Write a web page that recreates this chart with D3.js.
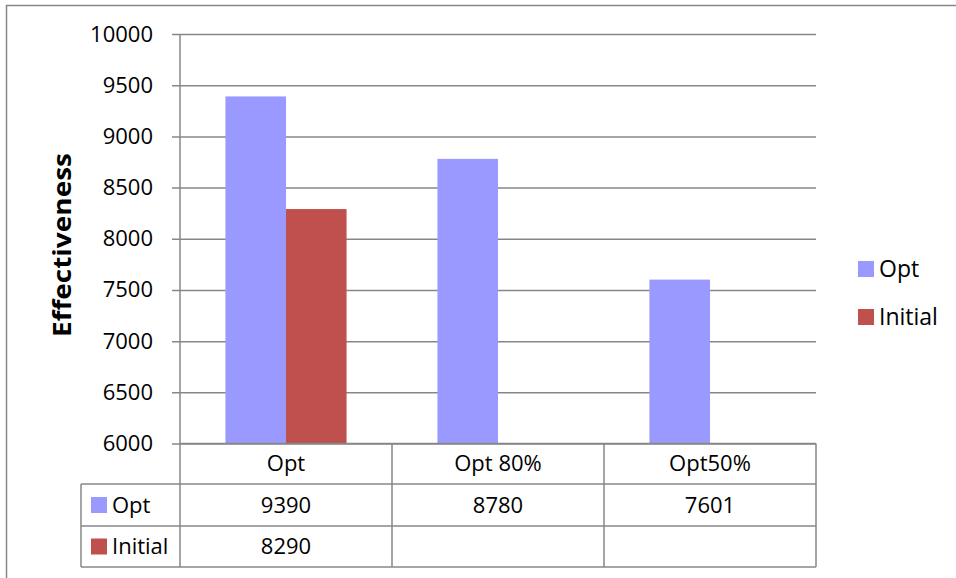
<!DOCTYPE html>
<html>
<head>
<meta charset="utf-8">
<script src="https://cdn.jsdelivr.net/npm/d3@7"></script>
<style>
  html, body { margin: 0; padding: 0; background: #fff; }
  svg { display: block; }
  text { font-family: "Open Sans", "Noto Sans", sans-serif; fill: #000; }
</style>
</head>
<body>
<svg id="chart" width="956" height="578"></svg>
<script>
// Categories and series
const categories = ["Opt", "Opt 80%", "Opt50%"];
const seriesNames = ["Opt", "Initial"];
const optValues = [9390, 8780, 7601];
const initialValues = [8290, null, null];
const yTicks = [6000, 6500, 7000, 7500, 8000, 8500, 9000, 9500, 10000];
const yTitle = "Effectiveness";

const colors = { "Opt": "#9999FF", "Initial": "#C0504D" };
const seriesValues = { "Opt": optValues, "Initial": initialValues };

const svg = d3.select("#chart");
const gridColor = "#878787";

// Outer chart frame
svg.append("rect")
  .attr("x", 6.5).attr("y", 5.5)
  .attr("width", 1000).attr("height", 1000)
  .attr("fill", "none").attr("stroke", gridColor).attr("stroke-width", 1.5);

const plot = { left: 180, right: 816, top: 34, bottom: 443.5 };

const x = d3.scaleBand()
  .domain(categories)
  .range([plot.left, plot.right]);

const xInner = d3.scaleBand()
  .domain(seriesNames)
  .range([0, x.bandwidth()])
  .paddingOuter(0.75)
  .paddingInner(0);

const y = d3.scaleLinear()
  .domain([6000, 10000])
  .range([plot.bottom, plot.top]);

// Horizontal gridlines with tick marks
const yAxis = d3.axisLeft(y)
  .tickValues(yTicks)
  .tickSize(-(plot.right - plot.left))
  .tickPadding(27)
  .tickFormat(d3.format("d"));

const gy = svg.append("g")
  .attr("transform", `translate(${plot.left},0)`)
  .call(yAxis);
gy.select(".domain").remove();
gy.selectAll(".tick line")
  .attr("x1", -8)
  .attr("stroke", gridColor).attr("stroke-width", 1.5);
gy.selectAll(".tick text")
  .attr("font-size", 22)
  .style("font-family", "'Open Sans', sans-serif")
  .attr("fill", "#000");

// Vertical axis line
svg.append("line")
  .attr("x1", plot.left).attr("x2", plot.left)
  .attr("y1", plot.top).attr("y2", plot.bottom)
  .attr("stroke", gridColor).attr("stroke-width", 1.5);

// Bars
const groups = svg.append("g").selectAll("g")
  .data(categories)
  .join("g")
  .attr("transform", d => `translate(${x(d)},0)`);

groups.selectAll("rect")
  .data((c, i) => seriesNames
    .map(s => ({ s, v: seriesValues[s][i] }))
    .filter(d => d.v != null))
  .join("rect")
  .attr("x", d => xInner(d.s))
  .attr("width", xInner.bandwidth())
  .attr("y", d => y(d.v))
  .attr("height", d => y(6000) - y(d.v))
  .attr("fill", d => colors[d.s]);

// Data table below the plot
const rowH = [plot.bottom, 484, 526, 567];
const tableLeft = 81;
const tg = svg.append("g");

// Horizontal table lines
tg.append("line")
  .attr("x1", plot.left).attr("x2", plot.right)
  .attr("y1", plot.bottom).attr("y2", plot.bottom)
  .attr("stroke", gridColor).attr("stroke-width", 1.5);
[rowH[1], rowH[2], rowH[3]].forEach(yy => {
  tg.append("line")
    .attr("x1", tableLeft).attr("x2", plot.right)
    .attr("y1", yy).attr("y2", yy)
    .attr("stroke", gridColor).attr("stroke-width", 1.5);
});
// Vertical table lines
tg.append("line")
  .attr("x1", tableLeft).attr("x2", tableLeft)
  .attr("y1", rowH[1]).attr("y2", rowH[3])
  .attr("stroke", gridColor).attr("stroke-width", 1.5);
categories.forEach(c => {
  tg.append("line")
    .attr("x1", x(c)).attr("x2", x(c))
    .attr("y1", plot.bottom).attr("y2", rowH[3])
    .attr("stroke", gridColor).attr("stroke-width", 1.5);
});
tg.append("line")
  .attr("x1", plot.right).attr("x2", plot.right)
  .attr("y1", plot.bottom).attr("y2", rowH[3])
  .attr("stroke", gridColor).attr("stroke-width", 1.5);

// Category header row
tg.selectAll("text.cat")
  .data(categories)
  .join("text")
  .attr("class", "cat")
  .attr("x", d => x(d) + x.bandwidth() / 2)
  .attr("y", (rowH[0] + rowH[1]) / 2)
  .attr("dy", "0.35em")
  .attr("text-anchor", "middle")
  .attr("font-size", 22)
  .text(d => d);

// Series rows with legend keys and values
seriesNames.forEach((s, r) => {
  const cy = (rowH[r + 1] + rowH[r + 2]) / 2;
  tg.append("rect")
    .attr("x", 91).attr("y", cy - 8)
    .attr("width", 16).attr("height", 16)
    .attr("fill", colors[s]);
  tg.append("text")
    .attr("x", 112).attr("y", cy).attr("dy", "0.35em")
    .attr("font-size", 22)
    .text(s);
  seriesValues[s].forEach((v, i) => {
    if (v == null) return;
    tg.append("text")
      .attr("x", x(categories[i]) + x.bandwidth() / 2)
      .attr("y", cy).attr("dy", "0.35em")
      .attr("text-anchor", "middle")
      .attr("font-size", 22)
      .text(v);
  });
});

// Legend
const legend = svg.append("g");
seriesNames.forEach((s, i) => {
  const ly = 269 + i * 48;
  legend.append("rect")
    .attr("x", 858).attr("y", ly - 8)
    .attr("width", 16).attr("height", 16)
    .attr("fill", colors[s]);
  legend.append("text")
    .attr("x", 879).attr("y", ly).attr("dy", "0.35em")
    .attr("font-size", 23)
    .text(s);
});

// Y-axis title
svg.append("text")
  .attr("transform", `translate(62,245) rotate(-90)`)
  .attr("text-anchor", "middle")
  .attr("dy", "0.35em")
  .attr("font-size", 25)
  .attr("font-weight", "bold")
  .attr("textLength", 184)
  .attr("lengthAdjust", "spacingAndGlyphs")
  .text(yTitle);
</script>
</body>
</html>
